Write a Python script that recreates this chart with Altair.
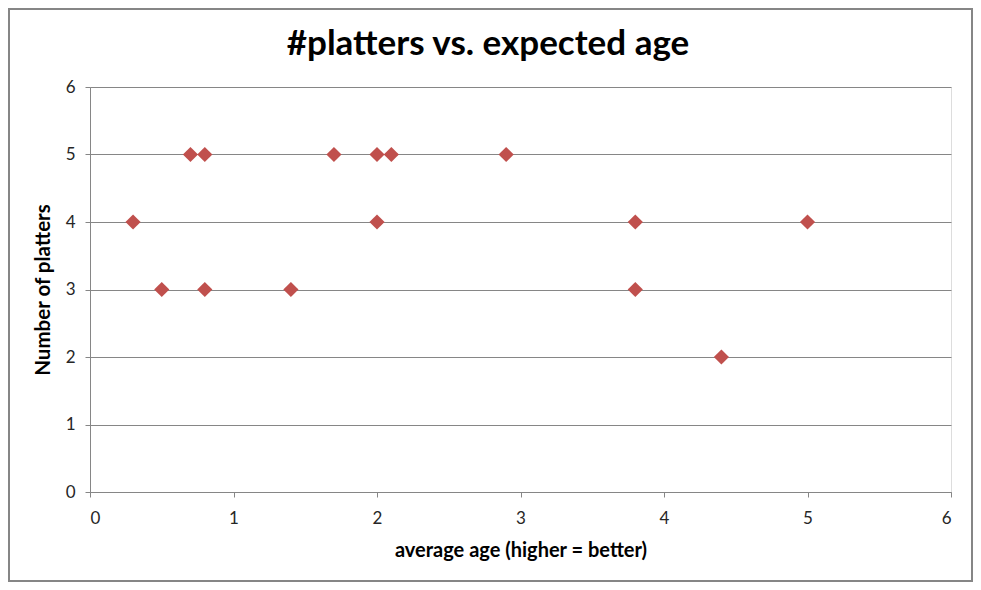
import altair as alt
import pandas as pd

avg_age = [0.3, 0.5, 0.7, 0.8, 0.8, 1.4, 1.7, 2.0, 2.0, 2.1, 2.9, 3.8, 3.8, 4.4, 5.0]
platters = [4, 3, 5, 5, 3, 3, 5, 5, 4, 5, 5, 4, 3, 2, 4]
title_text = ["#platters vs. expected age"]

df = pd.DataFrame({"age": avg_age, "platters": platters})

FONT = "Lato"
W, H = 861, 405

points = alt.Chart(df).mark_point(
    shape="diamond", filled=True, color="#C0504D", size=230, opacity=1
).encode(
    x=alt.X("age:Q", scale=alt.Scale(domain=[0, 6], nice=False),
            axis=alt.Axis(title="average age (higher = better)", values=[0, 1, 2, 3, 4, 5, 6],
                          grid=False, domain=True, domainColor="#868686", tickColor="#868686",
                          tickSize=5, labelPadding=13, labelFontSize=17, labelColor="#262626",
                          titleFontSize=20, titleFontWeight="bold", titleColor="#000000",
                          titlePadding=14, labelFont=FONT, titleFont=FONT)),
    y=alt.Y("platters:Q", scale=alt.Scale(domain=[0, 6], nice=False),
            axis=alt.Axis(title="Number of platters", values=[0, 1, 2, 3, 4, 5, 6],
                          grid=True, gridColor="#868686", gridWidth=1,
                          domain=True, domainColor="#868686", tickColor="#868686",
                          tickSize=5, labelPadding=10, labelFontSize=17, labelColor="#262626",
                          titleFontSize=20.5, titleFontWeight="bold", titleColor="#000000",
                          titlePadding=12, labelFont=FONT, titleFont=FONT)),
)

border = alt.Chart(pd.DataFrame({"a": [0]})).mark_rect(
    fill=None, stroke="#868686", strokeWidth=2
).encode(
    x=alt.value(-81), x2=alt.value(W + 21),
    y=alt.value(-78), y2=alt.value(H + 89),
)

title = alt.Chart(pd.DataFrame({"t": title_text})).mark_text(
    font=FONT, fontSize=35, fontWeight="bold", color="#000000",
    align="center", baseline="alphabetic"
).encode(
    text="t:N", x=alt.value(398), y=alt.value(-32),
)

chart = alt.layer(border, points, title).properties(
    width=W, height=H,
    autosize=alt.AutoSizeParams(type="none"),
    padding={"left": 82, "top": 79, "right": 22, "bottom": 90},
).configure_view(stroke=None).configure(background="white")

chart.save("out.html", embed_options={"renderer": "svg", "actions": False})
